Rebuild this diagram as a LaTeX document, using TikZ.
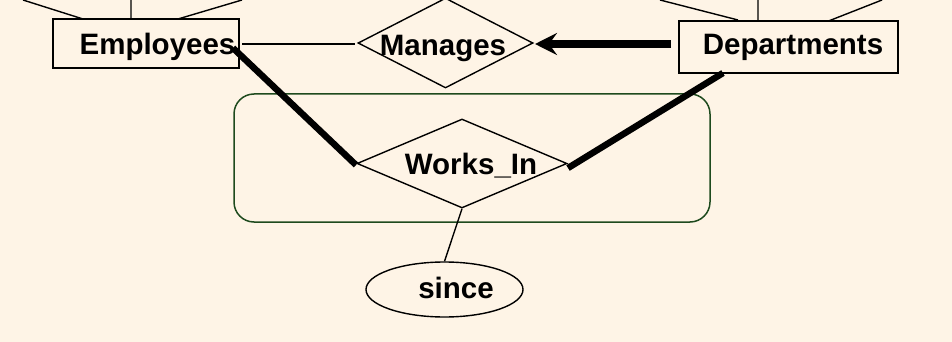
\documentclass[tikz,border=0pt]{standalone}
\usepackage{fontspec}
\setmainfont{Liberation Sans}
\usetikzlibrary{shapes.geometric,arrows.meta}
\definecolor{bg}{HTML}{FEF4E6}
\definecolor{aggr}{HTML}{1E4A1E}
\tikzset{
  thin line/.style={draw=black, line width=1.4pt},
  entity/.style={thin line, fill=bg, rectangle, inner sep=0pt},
  relship/.style={thin line, fill=bg, diamond, inner sep=0pt},
  attrib/.style={thin line, fill=bg, ellipse, inner sep=0pt},
  lbl/.style={anchor=base, inner sep=0pt, font=\fontsize{29.5}{29.5}\selectfont\bfseries},
  heavy/.style={line width=6.5pt},
}
\begin{document}
\begin{tikzpicture}[x=1pt,y=-1pt]
\fill[bg] (0,0) rectangle (952,342);
\useasboundingbox (0,0) rectangle (952,342);

% aggregation box
\node[draw=aggr, line width=1.5pt, rounded corners=20pt, rectangle, minimum width=476pt, minimum height=128pt, inner sep=0pt] (agg) at (472,158) {};

% attribute stubs
\coordinate (e1) at (83,19);  \coordinate (e1t) at (23,0);
\coordinate (e2) at (131,19); \coordinate (e2t) at (131,0);
\coordinate (e3) at (178,19); \coordinate (e3t) at (242,0);
\coordinate (d1) at (738,20); \coordinate (d1t) at (660,0);
\coordinate (d2) at (758,20); \coordinate (d2t) at (758,0);
\coordinate (d3) at (826,22); \coordinate (d3t) at (882,0);
\draw[thin line] (e1) -- (e1t) (e2) -- (e2t) (e3) -- (e3t);
\draw[thin line] (d1) -- (d1t) (d2) -- (d2t) (d3) -- (d3t);

% entities
\node[entity, minimum width=186pt, minimum height=49pt] (emp) at (146,43.5) {};
\node[entity, minimum width=219pt, minimum height=52pt] (dept) at (788.5,47) {};

% relationships
\node[relship, minimum width=175pt, minimum height=90pt] (man) at (445.5,43) {};
\node[relship, minimum width=210pt, minimum height=89pt] (wi) at (462,163.5) {};

% attribute
\node[attrib, minimum width=157pt, minimum height=55pt] (since) at (444.5,289.5) {};

% connectors
\coordinate (empR) at (242,44);
\coordinate (manL) at (355,44);
\draw[thin line] (empR) -- (manL);
\coordinate (deptL) at (671,44);
\coordinate (manR) at (535,44);
\draw[line width=7.5pt, -{Stealth[length=22pt,width=22pt,inset=8pt]}] (deptL) -- (manR);
\coordinate (empWi) at (233,48);
\coordinate (wiL) at (356,165);
\draw[heavy] (empWi) -- (wiL);
\coordinate (deptWi) at (723,73);
\coordinate (wiR) at (568,168);
\draw[heavy] (deptWi) -- (wiR);
\draw[thin line] (wi.south) -- (since.north);

% labels
\node[lbl] (empt) at (157.5,55) {Employees};
\node[lbl] (deptt) at (793,55) {Departments};
\node[lbl] (mant) at (443,56) {Manages};
\node[lbl] (wit) at (471,174) {Works\_In};
\node[lbl] (sincet) at (456,298) {since};
\end{tikzpicture}
\end{document}
